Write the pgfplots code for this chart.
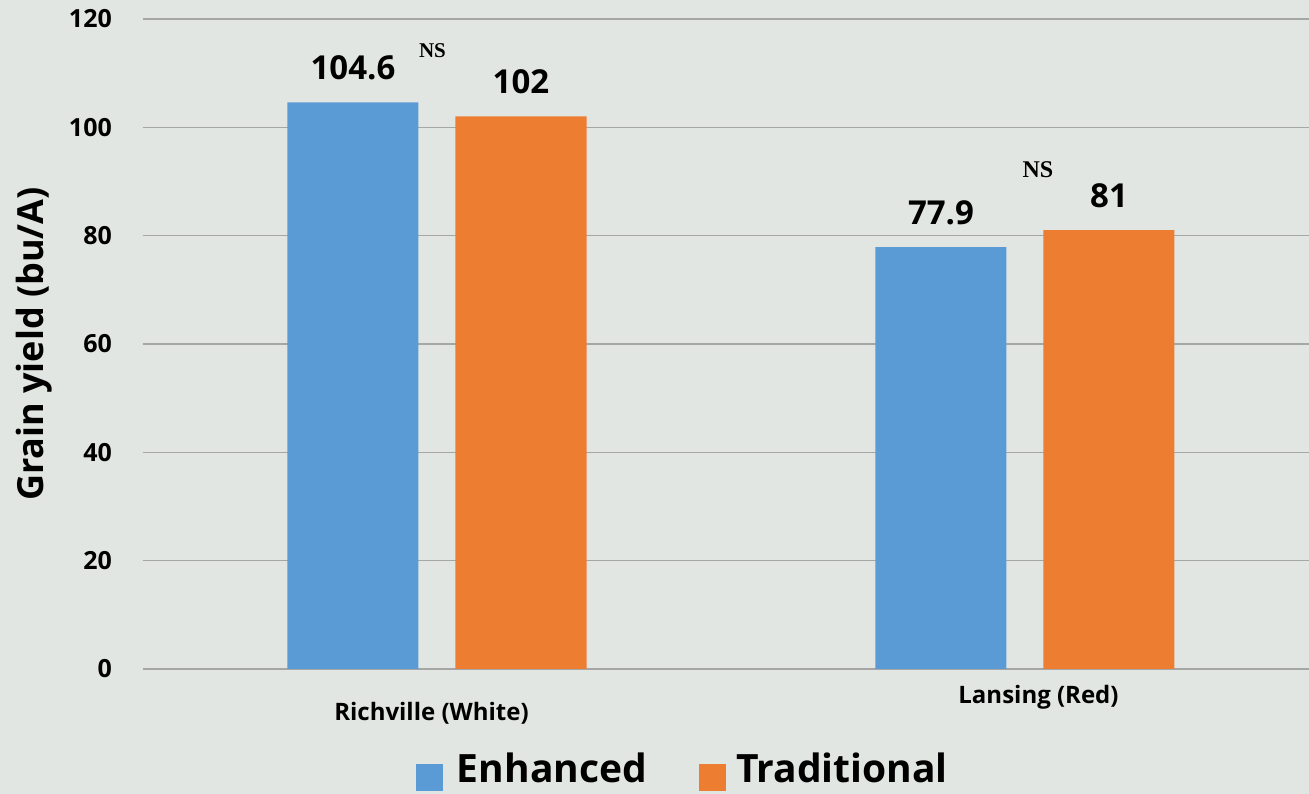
\documentclass[border=0pt]{standalone}
\usepackage{fontspec}
\setmainfont{Open Sans}
\newfontfamily\nsfont{Liberation Serif}
\usepackage{pgfplots}
\pgfplotsset{compat=1.18}
\definecolor{bg}{HTML}{E2E6E3}
\definecolor{enh}{HTML}{5B9BD5}
\definecolor{trad}{HTML}{ED7D31}
\definecolor{gridc}{HTML}{A6A6A6}
\begin{document}
\begin{tikzpicture}
\useasboundingbox (0,0) rectangle (1309bp,794bp);
\fill[bg] (0,0) rectangle (1309bp,794bp);
\begin{axis}[
  at={(143bp,125bp)}, anchor=south west,
  scale only axis, width=1166bp, height=650bp,
  xmin=-0.5, xmax=1.483, ymin=0, ymax=120,
  ybar=37bp, bar width=131bp,
  ytick={0,20,...,120}, xtick={0,1},
  xticklabels={{\hspace*{-11bp}Richville (White)},{\raisebox{17bp}{Lansing (Red)}\hspace*{-27bp}}},
  axis line style={draw=none}, major tick length=0pt,
  ymajorgrids, grid style={gridc, line width=1.6bp},
  /pgf/number format/assume math mode=true,
  yticklabel style={font=\bfseries\fontsize{25bp}{25bp}\selectfont, anchor=east, inner sep=0pt, xshift=-31bp},
  xticklabel style={font=\bfseries\fontsize{24bp}{24bp}\selectfont, anchor=base, inner sep=0pt, yshift=-51bp},
  ylabel={Grain yield (bu/A)},
  ylabel style={font=\bfseries\fontsize{36bp}{36bp}\selectfont, at={(axis description cs:-0.0935,0.5)}, anchor=center},
  nodes near coords,
  every node near coord/.append style={font=\bfseries\fontsize{33bp}{33bp}\selectfont, anchor=south, inner sep=0pt, yshift=22bp, text=black},
  legend columns=2,
  legend style={at={(axis description cs:0.2341,-0.1877)}, anchor=south west, draw=none, fill=none,
    inner sep=0pt, outer sep=0pt, column sep=0pt, row sep=0pt,
    nodes={inner sep=0pt, outer sep=0pt},
    font=\bfseries\fontsize{39bp}{39bp}\selectfont},
  legend cell align=left,
]
\addplot[fill=enh, draw=none,
  legend image code/.code={\fill[enh] (0bp,-23bp) rectangle (27bp,4bp);}]
  coordinates {(0,104.6) (1,77.9)};
\addlegendentry{\hspace*{14bp}Enhanced\hspace*{52bp}}
\addplot[fill=trad, draw=none,
  legend image code/.code={\fill[trad] (0bp,-23bp) rectangle (27bp,4bp);}]
  coordinates {(0,102) (1,81)};
\addlegendentry{\hspace*{10bp}Traditional}
\node[font=\nsfont\bfseries\fontsize{21bp}{21bp}\selectfont, inner sep=0pt] at (axis cs:-0.0077,114.1) {NS};
\node[font=\nsfont\bfseries\fontsize{24bp}{24bp}\selectfont, inner sep=0pt] at (axis cs:1.022,92.1) {NS};
\end{axis}
\end{tikzpicture}
\end{document}
